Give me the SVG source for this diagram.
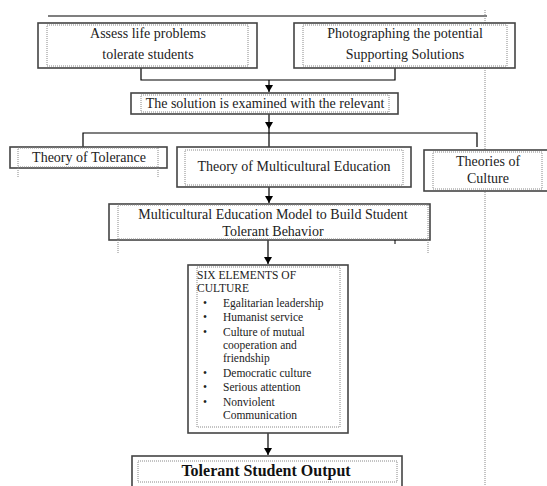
<svg xmlns="http://www.w3.org/2000/svg" width="547" height="486" viewBox="0 0 547 486">
<defs>
<marker id="ah" markerWidth="8" markerHeight="8" refX="7" refY="4" orient="auto" markerUnits="userSpaceOnUse">
<path d="M0,0 L7,4 L0,8 z" fill="#000"/>
</marker>
<style>
.ob{fill:#fff;stroke:#444;stroke-width:1.6}
.ib{fill:none;stroke:#888;stroke-width:1;stroke-dasharray:1 1}
.dl{fill:none;stroke:#888;stroke-width:1;stroke-dasharray:1 1}
.cn{fill:none;stroke:#000;stroke-width:1.2}
.t{font-family:"Liberation Serif","Times New Roman",serif;font-size:14px;fill:#222;text-anchor:middle}
.s{font-family:"Liberation Serif","Times New Roman",serif;font-size:11.5px;fill:#222}
.b{font-family:"Liberation Serif","Times New Roman",serif;font-size:16px;font-weight:bold;fill:#111;text-anchor:middle}
</style>
</defs>
<rect width="547" height="486" fill="#fff"/>
<g id="frame">
<line x1="48" y1="16" x2="487" y2="16" stroke="#000" stroke-width="1.2"/>
<line x1="485" y1="10" x2="485" y2="486" class="dl"/>
</g>
<g id="connectors">
<path class="cn" d="M141,68 V80 H395 V68"/>
<path class="cn" d="M269,80 V92" marker-end="url(#ah)"/>
<path class="cn" d="M269,114 V129" marker-end="url(#ah)"/>
<path class="cn" d="M83,147 V133 H477 V147"/>
<path class="cn" d="M269,129 V147"/>
<path class="cn" d="M269,187 V203" marker-end="url(#ah)"/>
<path class="cn" d="M268,240 V264" marker-end="url(#ah)"/>
<path class="cn" d="M268,433 V455" marker-end="url(#ah)"/>
</g>
<g id="assess">
<rect class="ob" x="38" y="23" width="219" height="45"/>
<rect class="ib" x="47" y="25" width="201" height="41"/>
<text class="t" x="148" y="38">Assess  life problems</text>
<text class="t" x="148" y="59">tolerate students</text>
</g>
<g id="photographing">
<rect class="ob" x="294" y="23" width="221" height="45"/>
<rect class="ib" x="303" y="25" width="204" height="41"/>
<text class="t" x="405" y="38">Photographing the potential</text>
<text class="t" x="405" y="59">Supporting Solutions</text>
</g>
<g id="solution">
<rect class="ob" x="131" y="93" width="267" height="21"/>
<rect class="ib" x="141" y="95" width="248" height="17"/>
<text class="t" x="265" y="108">The solution is examined with the relevant</text>
</g>
<g id="tolerance">
<rect class="ob" x="10" y="147" width="157" height="21"/>
<rect class="ib" x="18" y="148" width="140" height="19"/>
<line class="dl" x1="18" y1="168" x2="18" y2="178"/>
<line class="dl" x1="158" y1="168" x2="158" y2="178"/>
<text class="t" x="89" y="162">Theory of Tolerance</text>
</g>
<g id="multicultural">
<rect class="ob" x="177" y="147" width="234" height="40"/>
<rect class="ib" x="185" y="150" width="218" height="35"/>
<text class="t" x="294" y="171">Theory of Multicultural Education</text>
</g>
<g id="culture">
<rect class="ob" x="424" y="150" width="130" height="41"/>
<rect class="ib" x="433" y="152" width="109" height="37"/>
<text class="t" x="488" y="166">Theories of</text>
<text class="t" x="488" y="183">Culture</text>
</g>
<g id="model">
<rect class="ob" x="109" y="204" width="321" height="36"/>
<rect class="ib" x="118" y="205" width="310" height="34"/>
<line class="dl" x1="118" y1="240" x2="118" y2="253"/>
<line class="dl" x1="428" y1="240" x2="428" y2="253"/>
<line x1="395" y1="240" x2="395" y2="244" stroke="#000" stroke-width="1"/>
<text class="t" x="273" y="219">Multicultural Education Model to Build Student</text>
<text class="t" x="273" y="236">Tolerant Behavior</text>
</g>
<g id="elements">
<rect class="ob" x="188" y="265" width="160" height="168"/>
<rect class="ib" x="197" y="267" width="143" height="160"/>
<text class="s" x="197" y="279">SIX ELEMENTS OF</text>
<text class="s" x="197" y="292">CULTURE</text>
<g class="s">
<text x="203" y="307">•</text><text x="223" y="307">Egalitarian leadership</text>
<text x="203" y="321">•</text><text x="223" y="321">Humanist service</text>
<text x="203" y="336">•</text><text x="223" y="336">Culture of mutual</text>
<text x="223" y="349">cooperation and</text>
<text x="223" y="362">friendship</text>
<text x="203" y="377">•</text><text x="223" y="377">Democratic culture</text>
<text x="203" y="391">•</text><text x="223" y="391">Serious attention</text>
<text x="203" y="406">•</text><text x="223" y="406">Nonviolent</text>
<text x="223" y="419">Communication</text>
</g>
</g>
<g id="output">
<rect class="ob" x="132" y="456" width="270" height="40"/>
<rect class="ib" x="138" y="461" width="259" height="21"/>
<text class="b" x="266" y="476">Tolerant Student Output</text>
</g>
</svg>
